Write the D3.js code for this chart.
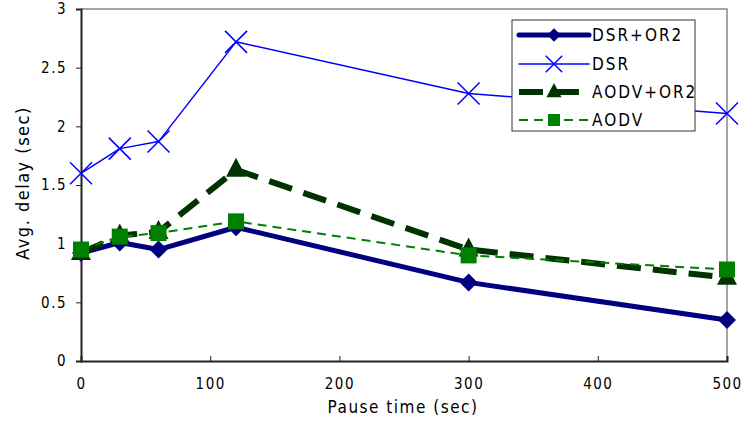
<!DOCTYPE html>
<html><head><meta charset="utf-8">
<script src="https://cdn.jsdelivr.net/npm/d3@7"></script>
<style>body{margin:0;background:#fff}svg{display:block}text{font-family:"Liberation Sans Narrow","DejaVu Sans Condensed",sans-serif;fill:#000}</style>
</head><body><svg id="c" width="742" height="421"></svg>
<script>
const pauseTimes = [0, 30, 60, 120, 300, 500];
const dsrOr2 = [0.92, 1.01, 0.95, 1.14, 0.67, 0.35];
const dsr = [1.60, 1.81, 1.87, 2.72, 2.28, 2.11];
const aodvOr2 = [0.92, 1.07, 1.10, 1.63, 0.95, 0.71];
const aodv = [0.95, 1.06, 1.09, 1.19, 0.90, 0.78];
const xTicks = [0, 100, 200, 300, 400, 500];
const yTicks = [0, 0.5, 1, 1.5, 2, 2.5, 3];
const yTickLabels = ["0", "0.5", "1", "1.5", "2", "2.5", "3"];
const seriesNames = ["DSR+OR2", "DSR", "AODV+OR2", "AODV"];

const svg = d3.select("#c");
const L = 81, R = 727, T = 9, B = 361;
const x = d3.scaleLinear().domain([0, 500]).range([L, R]);
const y = d3.scaleLinear().domain([0, 3]).range([B, T]);

svg.append("path").attr("d", `M${L},${T}H${R}V${B}`).attr("fill","none").attr("stroke","#888").attr("stroke-width",1.5);

const yAxis = svg.append("g").attr("transform",`translate(${L},0)`)
  .call(d3.axisLeft(y).tickValues(yTicks).tickSize(5).tickPadding(9).tickFormat((d,i)=>yTickLabels[i]));
const xAxis = svg.append("g").attr("transform",`translate(0,${B})`)
  .call(d3.axisBottom(x).tickValues(xTicks).tickSize(-5).tickPadding(28).tickFormat(d3.format("d")));
[yAxis, xAxis].forEach(g=>{
  g.select(".domain").attr("stroke","#222").attr("stroke-width",2);
  g.selectAll(".tick line").attr("stroke","#222").attr("stroke-width",1);
  g.selectAll("text").attr("font-size",15).attr("letter-spacing","1.5px").attr("fill","#000");
});
xAxis.selectAll(".tick text").attr("dy","0");

svg.append("text").attr("x",403).attr("y",413).attr("text-anchor","middle").attr("font-size",17).attr("letter-spacing","1.5px").text("Pause time (sec)");
svg.append("text").attr("transform","translate(29,183) rotate(-90)").attr("text-anchor","middle").attr("font-size",18).attr("letter-spacing","1.5px").text("Avg. delay (sec)");

const series = [
  {name: seriesNames[0], vals: dsrOr2, color:"#000080", width:5, dash:null, marker:"diamond"},
  {name: seriesNames[1], vals: dsr, color:"#0000ff", width:1.5, dash:null, marker:"x"},
  {name: seriesNames[2], vals: aodvOr2, color:"#003300", width:6, dash:"24,12", marker:"triangle"},
  {name: seriesNames[3], vals: aodv, color:"#008000", width:2, dash:"9,6", marker:"square"}
];
const line = d3.line().x(d=>x(d[0])).y(d=>y(d[1]));

function drawMarker(g, type, cx, cy, color, k){
  k = k || 1;
  if(type==="diamond"){
    const s=9*k;
    g.append("path").attr("d",`M${cx},${cy-s}L${cx+s},${cy}L${cx},${cy+s}L${cx-s},${cy}Z`).attr("fill",color);
  } else if(type==="x"){
    const s=11*k;
    g.append("path").attr("d",`M${cx-s},${cy-s}L${cx+s},${cy+s}M${cx-s},${cy+s}L${cx+s},${cy-s}`).attr("stroke",color).attr("stroke-width",1.5);
  } else if(type==="triangle"){
    g.append("path").attr("d",`M${cx},${cy-12*k}L${cx+10*k},${cy+7*k}L${cx-10*k},${cy+7*k}Z`).attr("fill",color);
  } else if(type==="square"){
    g.append("rect").attr("x",cx-8*k).attr("y",cy-8*k).attr("width",16*k).attr("height",16*k).attr("fill",color);
  }
}

const order = [1,0,2,3];
order.forEach(i=>{
  const s = series[i];
  const pts = pauseTimes.map((t,j)=>[t, s.vals[j]]);
  svg.append("path").attr("d", line(pts)).attr("fill","none").attr("stroke",s.color)
    .attr("stroke-width",s.width).attr("stroke-dasharray",s.dash).attr("stroke-linejoin","round");
  const g = svg.append("g");
  pts.forEach(p=>drawMarker(g, s.marker, x(p[0]), y(p[1]), s.color));
});

const lg = svg.append("g");
lg.append("rect").attr("x",512).attr("y",20).attr("width",183).attr("height",111).attr("fill","#fff").attr("stroke","#333").attr("stroke-width",1);
const rowsY = [35, 64, 92, 120];
series.forEach((s,i)=>{
  const yy = rowsY[i];
  lg.append("line").attr("x1",519).attr("x2",589).attr("y1",yy).attr("y2",yy).attr("stroke",s.color)
    .attr("stroke-width",s.width).attr("stroke-dasharray",s.dash).attr("stroke-linecap", s.dash? "butt":"round");
  drawMarker(lg, s.marker, 554, yy, s.color, 0.75);
  lg.append("text").attr("x",592).attr("y",yy).attr("dy","0.36em").attr("font-size",17).attr("letter-spacing","2px").text(s.name);
});
</script></body></html>
